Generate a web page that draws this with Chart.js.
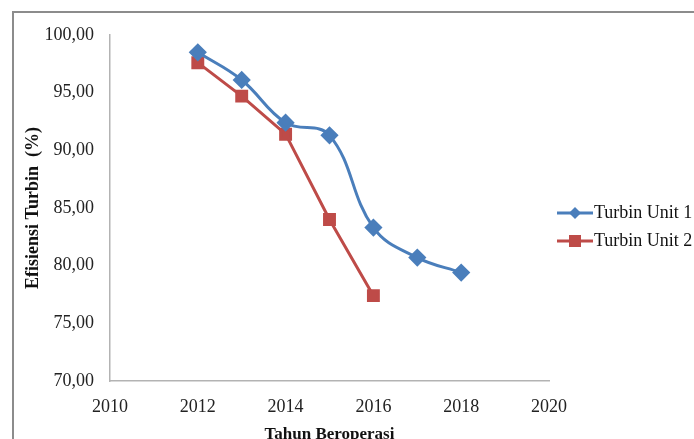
<!DOCTYPE html>
<html>
<head>
<meta charset="utf-8">
<script src="https://cdn.jsdelivr.net/npm/chart.js@4"></script>
<style>
  html, body { margin: 0; padding: 0; background: #fff; }
  #wrap { width: 694px; height: 439px; }
</style>
</head>
<body>
<div id="wrap"><canvas id="myChart"></canvas></div>
<script>
// data
var yearsUnit1 = [2012, 2013, 2014, 2015, 2016, 2017, 2018];
var unit1Values = [98.5, 96.1, 92.4, 91.3, 83.3, 80.7, 79.4];
var yearsUnit2 = [2012, 2013, 2014, 2015, 2016];
var unit2Values = [97.6, 94.7, 91.4, 84.0, 77.4];
var seriesNames = ['Turbin Unit 1', 'Turbin Unit 2'];
var xTicks = [2010, 2012, 2014, 2016, 2018, 2020];
var yTicks = [70, 75, 80, 85, 90, 95, 100];

var blue = '#4A7EBB';
var red = '#BE4B48';
var fontFam = '"Liberation Serif", "Times New Roman", serif';

function toPoints(xs, ys) {
  return xs.map(function (x, i) { return { x: x, y: ys[i] }; });
}

// frame around the figure + legend with line and marker
var framePlugin = {
  id: 'frame',
  beforeDraw: function (chart) {
    var ctx = chart.ctx;
    ctx.save();
    ctx.strokeStyle = '#8c8c8c';
    ctx.lineWidth = 2;
    ctx.strokeRect(13, 12, 700, 460);
    ctx.restore();
  },
  afterDraw: function (chart) {
    var ctx = chart.ctx;
    var x0 = 557, rows = [213, 241];
    ctx.save();
    chart.data.datasets.forEach(function (ds, i) {
      var y = rows[i];
      ctx.strokeStyle = ds.borderColor;
      ctx.lineWidth = 3;
      ctx.beginPath();
      ctx.moveTo(x0, y);
      ctx.lineTo(x0 + 36, y);
      ctx.stroke();
      ctx.fillStyle = ds.backgroundColor;
      ctx.beginPath();
      if (ds.pointStyle === 'rectRot') {
        ctx.moveTo(x0 + 18, y - 6);
        ctx.lineTo(x0 + 24, y);
        ctx.lineTo(x0 + 18, y + 6);
        ctx.lineTo(x0 + 12, y);
        ctx.closePath();
      } else {
        ctx.rect(x0 + 12, y - 6, 12, 12);
      }
      ctx.fill();
      ctx.fillStyle = '#111';
      ctx.font = '18px ' + fontFam;
      ctx.textBaseline = 'middle';
      ctx.fillText(ds.label, x0 + 37, y);
    });
    ctx.restore();
  }
};

var ctx = document.getElementById('myChart').getContext('2d');
var myChart = new Chart(ctx, {
  type: 'line',
  data: {
    datasets: [{
      label: seriesNames[0],
      data: toPoints(yearsUnit1, unit1Values),
      borderColor: blue,
      backgroundColor: blue,
      borderWidth: 3,
      tension: 0.4,
      pointStyle: 'rectRot',
      pointRadius: 7,
      pointHoverRadius: 7
    }, {
      label: seriesNames[1],
      data: toPoints(yearsUnit2, unit2Values),
      borderColor: red,
      backgroundColor: red,
      borderWidth: 3,
      tension: 0,
      pointStyle: 'rect',
      pointRadius: 7,
      pointHoverRadius: 7
    }]
  },
  options: {
    responsive: true,
    maintainAspectRatio: false,
    animation: false,
    layout: {
      padding: { left: 13, right: 145, top: 35, bottom: 0 }
    },
    plugins: {
      legend: { display: false },
      tooltip: { enabled: false }
    },
    scales: {
      x: {
        type: 'linear',
        min: 2010,
        max: 2020,
        afterBuildTicks: function (s) {
          s.ticks = xTicks.map(function (v) { return { value: v }; });
        },
        afterFit: function (s) { s.height = 58; },
        grid: { display: false, drawTicks: false },
        border: { display: true, color: '#b3b3b3', width: 1.5 },
        ticks: {
          padding: 15,
          color: '#222',
          font: { family: fontFam, size: 18 },
          callback: function (v) { return String(v); }
        },
        title: {
          display: true,
          text: 'Tahun Beroperasi',
          color: '#111',
          font: { family: fontFam, size: 17, weight: 'bold' },
          padding: { top: 3, bottom: -6 }
        }
      },
      y: {
        min: 70,
        max: 100,
        afterBuildTicks: function (s) {
          s.ticks = yTicks.map(function (v) { return { value: v }; });
        },
        afterFit: function (s) { s.width = 97; },
        grid: { display: false, drawTicks: false },
        border: { display: true, color: '#b3b3b3', width: 1.5 },
        ticks: {
          padding: 16,
          color: '#222',
          font: { family: fontFam, size: 18 },
          callback: function (v) { return v.toFixed(2).replace('.', ','); }
        },
        title: {
          display: true,
          text: 'Efisiensi Turbin  (%)',
          color: '#111',
          font: { family: fontFam, size: 18, weight: 'bold' },
          padding: { top: 10, bottom: 0 }
        }
      }
    }
  },
  plugins: [framePlugin]
});
</script>
</body>
</html>
